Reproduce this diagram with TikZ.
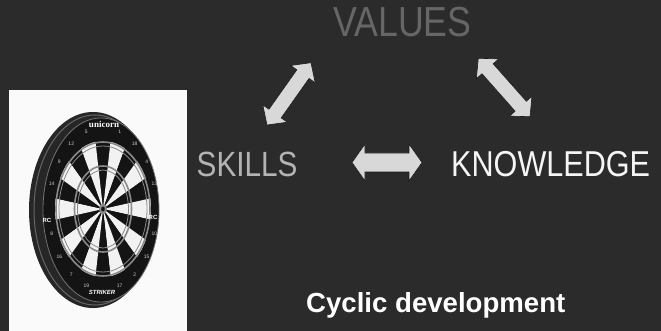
\documentclass[tikz,border=0pt]{standalone}
\usepackage{fontspec}
\setmainfont{Liberation Sans}
\newfontfamily\logofont{Liberation Serif}
\usepackage{graphicx}
\usetikzlibrary{calc}
\definecolor{bg}{HTML}{2B2B2B}
\definecolor{valuesc}{HTML}{666666}
\definecolor{skillsc}{HTML}{B4B4B4}
\definecolor{knowc}{HTML}{F5F5F5}
\definecolor{arrowfill}{HTML}{D8D8D8}
\definecolor{arrowedge}{HTML}{1A1A1A}
\definecolor{segblack}{HTML}{141414}
\definecolor{segwhite}{HTML}{F2F2F2}
\definecolor{ringgray}{HTML}{8A8A8A}
\definecolor{photobg}{HTML}{FAFAFA}
\tikzset{
  blockarr/.style={fill=arrowfill, draw=arrowedge, line width=0.6pt, line join=miter},
  bigword/.style={inner sep=0pt, anchor=base west},
  boardnum/.style={inner sep=0pt, font=\fontsize{5}{5}\selectfont, text=segwhite!85!black},
}
\newcommand\blockarrow[5]{%
  \coordinate (#1-h) at ($(#1)!#5!(#2)$);
  \coordinate (#2-h) at ($(#2)!#5!(#1)$);
  \path[blockarr] (#1) -- ($(#1-h)!#4!90:(#2)$) -- ($(#1-h)!#3!90:(#2)$)
    -- ($(#2-h)!#3!-90:(#1)$) -- ($(#2-h)!#4!-90:(#1)$) -- (#2)
    -- ($(#2-h)!#4!90:(#1)$) -- ($(#2-h)!#3!90:(#1)$)
    -- ($(#1-h)!#3!-90:(#2)$) -- ($(#1-h)!#4!-90:(#2)$) -- cycle;
}
\def\bx{103}\def\by{209}
\begin{document}
\begin{tikzpicture}[x=1pt,y=-1pt]
\useasboundingbox (0,0) rectangle (661,331);
\fill[bg] (0,0) rectangle (661,331);
% photo
\fill[photobg] (9,90) rectangle (187,331);
% dartboard body
\fill[black!85] (93,210) ellipse [x radius=64pt, y radius=98pt];
\draw[black!60, line width=1pt] (95,210) ellipse [x radius=61pt, y radius=95pt];
\fill[segblack] (101,210) ellipse [x radius=58pt, y radius=92pt];
\draw[black!55, line width=0.8pt] (101,210) ellipse [x radius=58pt, y radius=92pt];
\coordinate (bull) at (\bx,\by);
\foreach \i in {0,...,19}{
  \pgfmathsetmacro\a{81-18*\i}
  \pgfmathsetmacro\b{99-18*\i}
  \ifodd\i \def\segc{segwhite}\else\def\segc{segblack}\fi
  \fill[\segc] (bull) -- plot[domain=\a:\b, samples=6] ({\bx+48*cos(\x)},{\by-68*sin(\x)}) -- cycle;
}
\draw[ringgray, line width=1.6pt] (bull) ellipse [x radius=47pt, y radius=67pt];
\draw[ringgray, line width=0.8pt] (bull) ellipse [x radius=44pt, y radius=63pt];
\draw[ringgray, line width=1.6pt] (bull) ellipse [x radius=28.5pt, y radius=43pt];
\draw[ringgray, line width=0.8pt] (bull) ellipse [x radius=25.5pt, y radius=39pt];
\fill[ringgray] (bull) ellipse [x radius=4pt, y radius=5.5pt];
\fill[segblack] (bull) ellipse [x radius=1.8pt, y radius=2.5pt];
% numbers
\foreach \n [count=\k from 0] in {,1,18,4,13,,10,15,2,17,,19,7,16,8,,14,9,12,5}{
  \pgfmathsetmacro\ang{90-18*\k}
  \node[boardnum] (num\k) at ({\bx+54*cos(\ang)},{\by-81*sin(\ang)}) {\n};
}
\node[inner sep=0pt, text=white, font=\logofont\bfseries\fontsize{9}{9}\selectfont] (logo) at (104,124.5) {unicorn};
\node[inner sep=0pt, text=white, font=\bfseries\itshape\fontsize{6}{6}\selectfont] (striker) at (102,292) {STRIKER};
\node[inner sep=0pt, text=white, font=\bfseries\fontsize{6}{6}\selectfont] (rcl) at (47,220) {RC};
\node[inner sep=0pt, text=white, font=\bfseries\fontsize{6}{6}\selectfont] (rcr) at (153,217) {RC};
% words
\node[bigword, text=valuesc, font=\fontsize{42}{42}\selectfont] (values) at (333,37) {\scalebox{0.85}[1]{VALUES}};
\node[bigword, text=skillsc, font=\fontsize{35}{35}\selectfont] (skills) at (196.5,177) {\scalebox{0.85}[1]{SKILLS}};
\node[bigword, text=knowc, font=\fontsize{36}{36}\selectfont] (knowledge) at (451,177) {\scalebox{0.85}[1]{KNOWLEDGE}};
\node[bigword, text=white, font=\bfseries\fontsize{27.6}{27.6}\selectfont] (cyclic) at (306,312) {Cyclic development};
% arrows
\coordinate (sv1) at (267,125);
\coordinate (sv2) at (311,62.7);
\coordinate (vk1) at (478.3,58.3);
\coordinate (vk2) at (530,116.7);
\coordinate (sk1) at (352,162.5);
\coordinate (sk2) at (422,162.5);
\blockarrow{sv1}{sv2}{7.5pt}{15pt}{14pt}
\blockarrow{vk1}{vk2}{7.5pt}{15pt}{14pt}
\blockarrow{sk1}{sk2}{9.5pt}{18.5pt}{13pt}
\end{tikzpicture}
\end{document}
